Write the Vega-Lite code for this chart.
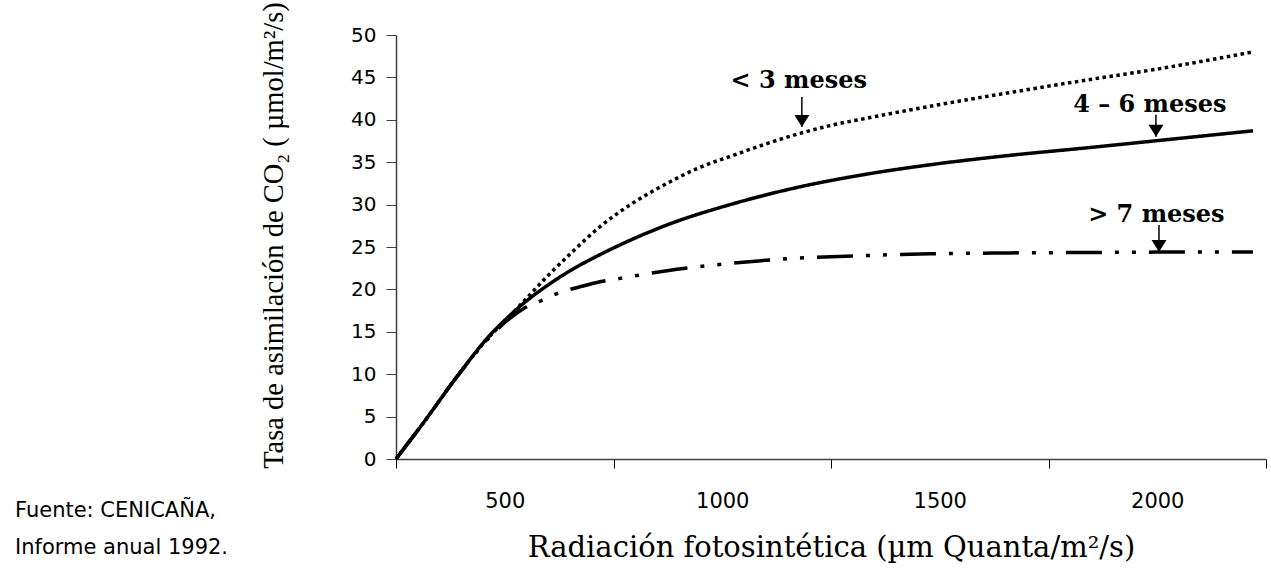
{
  "$schema": "https://vega.github.io/schema/vega-lite/v6.json",
  "width": 870,
  "height": 424,
  "autosize": {"type": "none"},
  "padding": {"left": 396, "top": 35, "right": 5, "bottom": 112},
  "background": "white",
  "config": {"view": {"stroke": null}, "axis": {"grid": false}},
  "title": {
    "text": ["Fuente: CENICAÑA,", "Informe anual 1992."],
    "orient": "bottom",
    "anchor": "start",
    "frame": "group",
    "dx": -381,
    "offset": -62,
    "font": "DejaVu Sans",
    "fontSize": 21,
    "fontWeight": "normal",
    "lineHeight": 37,
    "color": "black",
    "baseline": "top"
  },
  "datasets": {
    "curves": [
      {"x": 250, "y": 0, "serie": "< 3 meses"},
      {"x": 312, "y": 4.2, "serie": "< 3 meses"},
      {"x": 390, "y": 9.7, "serie": "< 3 meses"},
      {"x": 466, "y": 14.5, "serie": "< 3 meses"},
      {"x": 505, "y": 16.5, "serie": "< 3 meses"},
      {"x": 542, "y": 18.5, "serie": "< 3 meses"},
      {"x": 597, "y": 21.5, "serie": "< 3 meses"},
      {"x": 657, "y": 24.5, "serie": "< 3 meses"},
      {"x": 719, "y": 27.4, "serie": "< 3 meses"},
      {"x": 795, "y": 30.2, "serie": "< 3 meses"},
      {"x": 873, "y": 32.5, "serie": "< 3 meses"},
      {"x": 949, "y": 34.4, "serie": "< 3 meses"},
      {"x": 1025, "y": 35.8, "serie": "< 3 meses"},
      {"x": 1103, "y": 37.2, "serie": "< 3 meses"},
      {"x": 1179, "y": 38.4, "serie": "< 3 meses"},
      {"x": 1255, "y": 39.4, "serie": "< 3 meses"},
      {"x": 1333, "y": 40.2, "serie": "< 3 meses"},
      {"x": 1478, "y": 41.6, "serie": "< 3 meses"},
      {"x": 1660, "y": 43.2, "serie": "< 3 meses"},
      {"x": 1839, "y": 44.7, "serie": "< 3 meses"},
      {"x": 1990, "y": 45.9, "serie": "< 3 meses"},
      {"x": 2220, "y": 48.0, "serie": "< 3 meses"},
      {"x": 250, "y": 0, "serie": "4 – 6 meses"},
      {"x": 312, "y": 4.2, "serie": "4 – 6 meses"},
      {"x": 390, "y": 9.7, "serie": "4 – 6 meses"},
      {"x": 466, "y": 14.6, "serie": "4 – 6 meses"},
      {"x": 505, "y": 16.6, "serie": "4 – 6 meses"},
      {"x": 542, "y": 18.3, "serie": "4 – 6 meses"},
      {"x": 599, "y": 20.5, "serie": "4 – 6 meses"},
      {"x": 657, "y": 22.4, "serie": "4 – 6 meses"},
      {"x": 719, "y": 24.1, "serie": "4 – 6 meses"},
      {"x": 795, "y": 25.95, "serie": "4 – 6 meses"},
      {"x": 873, "y": 27.6, "serie": "4 – 6 meses"},
      {"x": 1025, "y": 30.1, "serie": "4 – 6 meses"},
      {"x": 1179, "y": 32.1, "serie": "4 – 6 meses"},
      {"x": 1333, "y": 33.6, "serie": "4 – 6 meses"},
      {"x": 1478, "y": 34.7, "serie": "4 – 6 meses"},
      {"x": 1660, "y": 35.8, "serie": "4 – 6 meses"},
      {"x": 1839, "y": 36.7, "serie": "4 – 6 meses"},
      {"x": 2030, "y": 37.7, "serie": "4 – 6 meses"},
      {"x": 2220, "y": 38.7, "serie": "4 – 6 meses"},
      {"x": 250, "y": 0, "serie": "> 7 meses"},
      {"x": 312, "y": 4.2, "serie": "> 7 meses"},
      {"x": 390, "y": 9.7, "serie": "> 7 meses"},
      {"x": 466, "y": 14.4, "serie": "> 7 meses"},
      {"x": 505, "y": 16.3, "serie": "> 7 meses"},
      {"x": 542, "y": 17.7, "serie": "> 7 meses"},
      {"x": 581, "y": 18.6, "serie": "> 7 meses"},
      {"x": 620, "y": 19.5, "serie": "> 7 meses"},
      {"x": 680, "y": 20.4, "serie": "> 7 meses"},
      {"x": 719, "y": 20.9, "serie": "> 7 meses"},
      {"x": 765, "y": 21.3, "serie": "> 7 meses"},
      {"x": 873, "y": 22.2, "serie": "> 7 meses"},
      {"x": 1025, "y": 23.1, "serie": "> 7 meses"},
      {"x": 1179, "y": 23.7, "serie": "> 7 meses"},
      {"x": 1333, "y": 24.0, "serie": "> 7 meses"},
      {"x": 1478, "y": 24.2, "serie": "> 7 meses"},
      {"x": 1660, "y": 24.3, "serie": "> 7 meses"},
      {"x": 1839, "y": 24.35, "serie": "> 7 meses"},
      {"x": 2030, "y": 24.4, "serie": "> 7 meses"},
      {"x": 2220, "y": 24.4, "serie": "> 7 meses"}
    ],
    "notes": [
      {"label": "< 3 meses", "tx": 1176, "ty": 43.75, "ax": 1183, "ay1": 42.7, "ay2": 39.15},
      {"label": "4 – 6 meses", "tx": 1983, "ty": 40.9, "ax": 1997, "ay1": 40.6, "ay2": 38.0},
      {"label": "> 7 meses", "tx": 1998, "ty": 27.95, "ax": 2004, "ay1": 27.6, "ay2": 24.4}
    ]
  },
  "layer": [
    {
      "data": {"name": "curves"},
      "mark": {"type": "line", "interpolate": "monotone", "strokeWidth": 3.5, "strokeCap": "butt", "color": "black"},
      "encoding": {
        "x": {
          "field": "x", "type": "quantitative",
          "scale": {"domain": [250, 2250], "nice": false, "zero": false},
          "axis": {
            "values": [250, 500, 750, 1000, 1250, 1500, 1750, 2000, 2250],
            "format": "d",
            "labelExpr": "datum.value % 500 == 0 ? datum.label : ''",
            "tickOpacity": {"condition": {"test": "datum.value % 500 == 250", "value": 1}, "value": 0},
            "tickSize": 9, "tickColor": "black", "tickWidth": 1,
            "domainColor": "#404040", "domainWidth": 1.5,
            "labelPadding": 22, "labelFont": "DejaVu Sans", "labelFontSize": 21, "labelColor": "black",
            "labelFlush": false, "labelOverlap": false,
            "title": "Radiación fotosintética (µm Quanta/m²/s)",
            "titleFont": "DejaVu Serif", "titleFontSize": 29, "titleFontWeight": "normal", "titleColor": "black",
            "titlePadding": 22
          }
        },
        "y": {
          "field": "y", "type": "quantitative",
          "scale": {"domain": [0, 50], "nice": false},
          "axis": {
            "values": [0, 5, 10, 15, 20, 25, 30, 35, 40, 45, 50],
            "tickSize": 10, "tickColor": "#404040", "tickWidth": 1,
            "domainColor": "#404040", "domainWidth": 1.5,
            "labelPadding": 10, "labelFont": "DejaVu Sans", "labelFontSize": 20, "labelColor": "black",
            "labelFlush": false, "labelOverlap": false,
            "title": "Tasa de asimilación de CO₂ ( µmol/m²/s)",
            "titleFont": "Liberation Serif", "titleFontSize": 28.5, "titleFontWeight": "normal", "titleColor": "black",
            "titlePadding": 62,
            "titleY": 200
          }
        },
        "detail": {"field": "serie"},
        "strokeDash": {
          "field": "serie", "type": "nominal",
          "scale": {"domain": ["< 3 meses", "4 – 6 meses", "> 7 meses"], "range": [[3.5, 3.5], [1, 0], [36, 13, 4, 13, 4, 13]]},
          "legend": null
        }
      }
    },
    {
      "data": {"name": "notes"},
      "mark": {"type": "rule", "strokeWidth": 1.5, "color": "black"},
      "encoding": {
        "x": {"field": "ax", "type": "quantitative", "scale": {"domain": [250, 2250], "nice": false, "zero": false}, "axis": {"title": "Radiación fotosintética (µm Quanta/m²/s)"}},
        "y": {"field": "ay1", "type": "quantitative", "scale": {"domain": [0, 50], "nice": false}, "axis": {"title": "Tasa de asimilación de CO₂ ( µmol/m²/s)"}},
        "y2": {"field": "ay2"}
      }
    },
    {
      "data": {"name": "notes"},
      "mark": {"type": "point", "shape": "M-1.25,-2L1.25,-2L0,0Z", "size": 144, "filled": true, "color": "black", "opacity": 1, "strokeWidth": 0},
      "encoding": {
        "x": {"field": "ax", "type": "quantitative", "scale": {"domain": [250, 2250], "nice": false, "zero": false}, "axis": {"title": "Radiación fotosintética (µm Quanta/m²/s)"}},
        "y": {"field": "ay2", "type": "quantitative", "scale": {"domain": [0, 50], "nice": false}, "axis": {"title": "Tasa de asimilación de CO₂ ( µmol/m²/s)"}}
      }
    },
    {
      "data": {"name": "notes"},
      "mark": {"type": "text", "font": "DejaVu Serif", "fontWeight": "bold", "fontSize": 24, "align": "center", "baseline": "alphabetic", "color": "black"},
      "encoding": {
        "x": {"field": "tx", "type": "quantitative", "scale": {"domain": [250, 2250], "nice": false, "zero": false}, "axis": {"title": "Radiación fotosintética (µm Quanta/m²/s)"}},
        "y": {"field": "ty", "type": "quantitative", "scale": {"domain": [0, 50], "nice": false}, "axis": {"title": "Tasa de asimilación de CO₂ ( µmol/m²/s)"}},
        "text": {"field": "label"}
      }
    }
  ]
}
